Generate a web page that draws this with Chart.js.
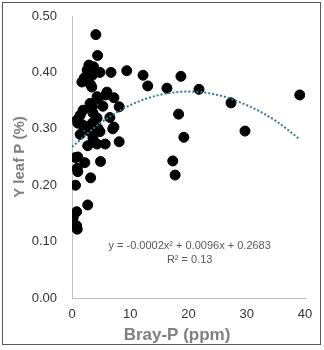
<!DOCTYPE html>
<html lang="en">
<head>
  <meta charset="UTF-8">
  <title>Y leaf P vs Bray-P</title>
  <script src="https://cdn.jsdelivr.net/npm/chart.js"></script>
  <style>
    body { margin: 0; background: #fff; }
    #wrap { width: 324px; height: 350px; }
  </style>
</head>
<body>
<div id="wrap"><canvas id="chart" width="324" height="350"></canvas></div>

<script>
  // Bray-P (ppm) and Y leaf P (%)
  const brayP = [39.1, 29.7, 27.3, 21.8, 18.7, 18.3, 19.2, 17.3, 17.7, 16.3, 13.0, 12.2, 9.4,
    8.1, 8.1, 7.2, 7.2, 6.7, 6.0, 5.3, 4.9, 4.5, 4.8, 4.1, 4.4, 2.9, 3.7, 2.1, 3.4, 3.5, 2.6,
    1.7, 3.2, 4.3, 5.8, 3.1, 3.5, 1.9, 1.4, 0.9, 3.6, 4.3, 6.5, 1.8, 2.7, 3.5, 4.5, 7.0, 1.0,
    1.4, 3.1, 4.8, 3.6, 2.7, 4.3, 5.7, 0.6, 1.0, 2.2, 0.9, 1.0, 3.2, 0.6, 2.7, 0.8, 0.2, 0.9, 0.8];
  const leafP = [0.360, 0.296, 0.346, 0.370, 0.393, 0.326, 0.285, 0.243, 0.218, 0.372, 0.376, 0.395, 0.403,
    0.339, 0.277, 0.303, 0.355, 0.400, 0.365, 0.340, 0.242, 0.353, 0.400, 0.467, 0.430, 0.413, 0.410, 0.390, 0.374, 0.395, 0.404,
    0.383, 0.378, 0.357, 0.360, 0.345, 0.339, 0.333, 0.324, 0.316, 0.328, 0.319, 0.320, 0.307, 0.304, 0.310, 0.300, 0.300, 0.310,
    0.290, 0.295, 0.295, 0.283, 0.270, 0.273, 0.273, 0.249, 0.250, 0.240, 0.230, 0.224, 0.213, 0.200, 0.165, 0.153, 0.142, 0.122, 0.128];

  // dotted polynomial trendline
  const trendX = [0, 5, 10, 15, 20, 25, 30, 35, 39];
  const trendY = [0.268, 0.311, 0.342, 0.360, 0.366, 0.360, 0.342, 0.314, 0.282];

  const yTicks = [0, 0.1, 0.2, 0.3, 0.4, 0.5];
  const xTicks = [0, 10, 20, 30, 40];

  const xTitle = 'Bray-P (ppm)';
  const eqLine = 'y = -0.0002x\u00B2 + 0.0096x + 0.2683';
  const r2Line = 'R\u00B2 = 0.13';

  const FONT = '"Liberation Sans", Arial, sans-serif';

  const extras = {
    id: 'extras',
    afterDraw(chart) {
      const c = chart.ctx;
      const xs = chart.scales.x, ys = chart.scales.y;
      c.save();
      c.textAlign = 'center';
      c.textBaseline = 'middle';
      // trendline label
      c.fillStyle = '#595959';
      c.font = '11px ' + FONT;
      const cx = xs.getPixelForValue(20.2);
      c.fillText(eqLine, cx, ys.getPixelForValue(0.092));
      c.fillText(r2Line, cx, ys.getPixelForValue(0.067));
      // x axis title (sits left of the plot centre in the original)
      c.fillStyle = '#7f7f7f';
      c.font = 'bold 17px ' + FONT;
      c.fillText(xTitle, 177, 335);
      // outer frame
      c.strokeStyle = '#595959';
      c.lineWidth = 1;
      c.strokeRect(2.5, 2.5, 318, 342);
      c.restore();
    }
  };

  new Chart(document.getElementById('chart'), {
    type: 'scatter',
    data: {
      datasets: [
        {
          data: brayP.map((x, i) => ({ x: x, y: leafP[i] })),
          backgroundColor: '#000',
          borderColor: '#000',
          borderWidth: 1,
          pointRadius: 5,
          order: 1
        },
        {
          type: 'line',
          data: trendX.map((x, i) => ({ x: x, y: trendY[i] })),
          borderColor: '#2e7a96',
          borderWidth: 2,
          borderDash: [2, 2],
          pointRadius: 0,
          cubicInterpolationMode: 'monotone',
          fill: false,
          order: 0
        }
      ]
    },
    options: {
      responsive: false,
      animation: false,
      layout: { padding: { left: 0, top: 16, right: 19, bottom: 0 } },
      plugins: { legend: { display: false }, tooltip: { enabled: false } },
      scales: {
        x: {
          type: 'linear',
          min: 0, max: 40,
          afterBuildTicks: s => { s.ticks = xTicks.map(v => ({ value: v })); },
          afterFit: s => { s.height = 52; s.paddingLeft = 0; s.paddingRight = 0; },
          grid: { display: false, drawOnChartArea: false, drawTicks: true, tickLength: 6, color: '#bfbfbf' },
          border: { color: '#bfbfbf' },
          ticks: { color: '#333', font: { family: FONT, size: 13 }, padding: 3 }
        },
        y: {
          type: 'linear',
          min: 0, max: 0.5,
          afterBuildTicks: s => { s.ticks = yTicks.map(v => ({ value: v })); },
          afterFit: s => { s.width = 72; s.paddingTop = 0; s.paddingBottom = 0; },
          grid: { display: false, drawTicks: false },
          border: { color: '#bfbfbf' },
          ticks: { color: '#333', font: { family: FONT, size: 13 }, padding: 15, callback: v => v.toFixed(2) },
          title: {
            display: true, text: 'Y leaf P (%)', color: '#7f7f7f',
            font: { family: FONT, size: 15, weight: 'bold' },
            padding: { top: 11, bottom: 0 }
          }
        }
      }
    },
    plugins: [extras]
  });
</script>
</body>
</html>
